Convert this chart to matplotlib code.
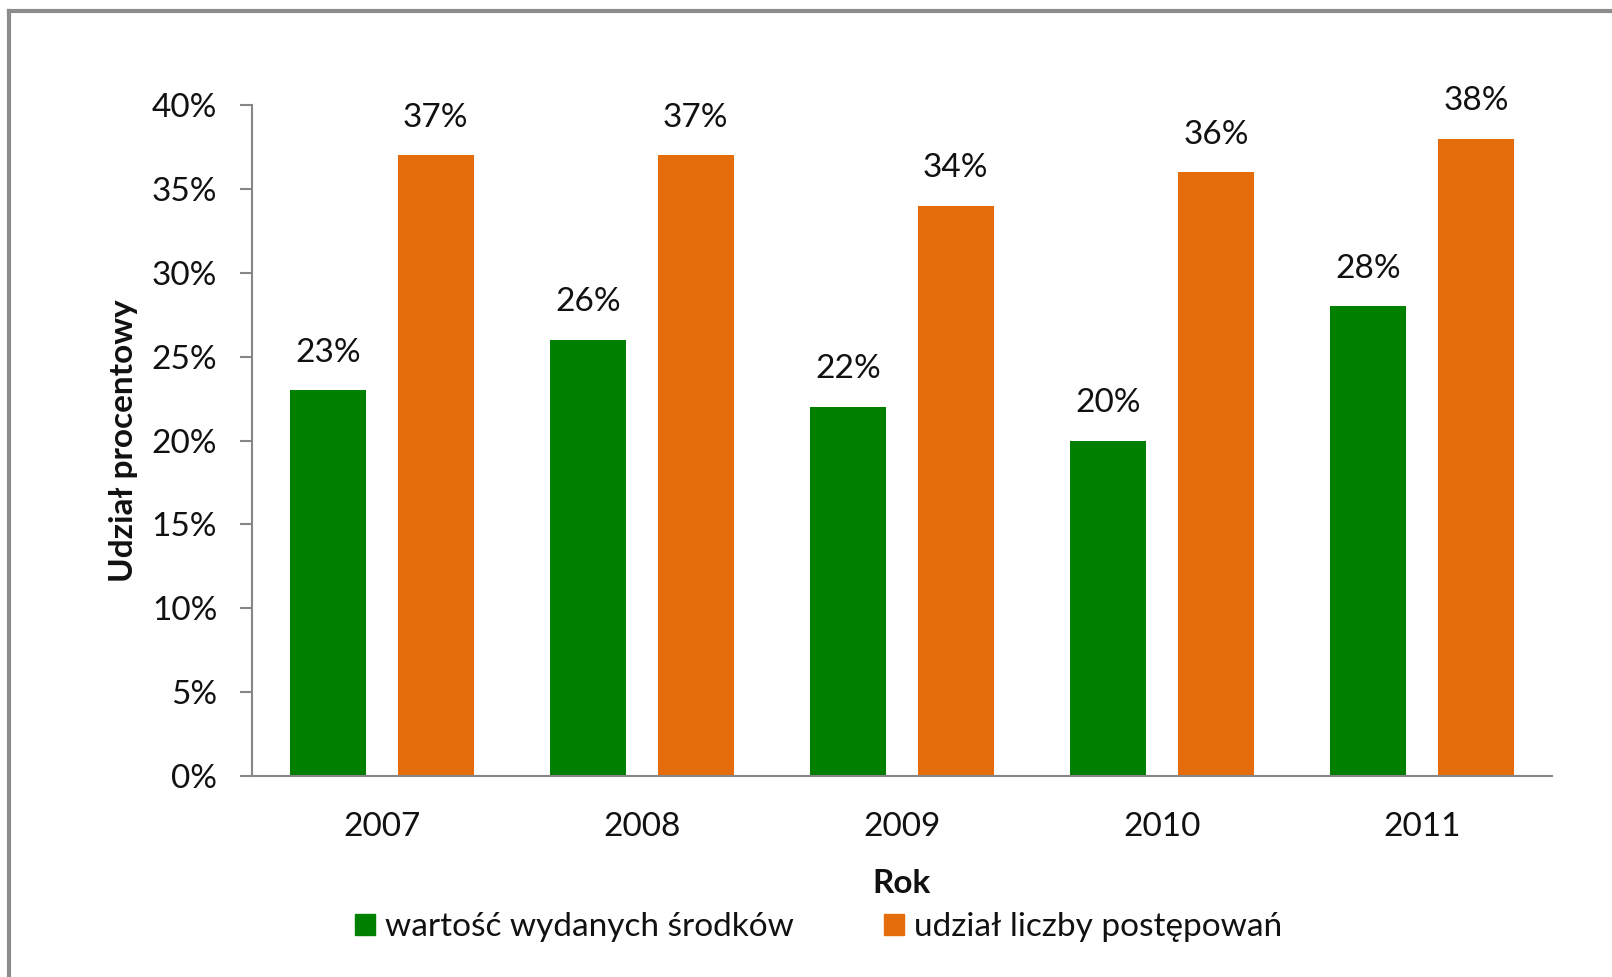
import numpy as np
import matplotlib.pyplot as plt
from matplotlib.lines import Line2D
from matplotlib.patches import Patch

# Data
years = ["2007", "2008", "2009", "2010", "2011"]
wartosc = [23, 26, 22, 20, 28]
udzial = [37, 37, 34, 36, 38]
series_names = ["wartość wydanych środków", "udział liczby postępowań"]

GREEN = "#008000"
ORANGE = "#E46C0A"
AXIS_GRAY = "#868686"
FS = 24

plt.rcParams["font.family"] = ["Lato", "DejaVu Sans"]
plt.rcParams["text.color"] = "#111111"

fig = plt.figure(figsize=(16.12, 9.77), dpi=100)
ax = fig.add_axes([0.1563, 0.2057, 0.9628 - 0.1563, 0.8925 - 0.2057])

x = np.arange(len(years))
width = 0.292
offset = 0.207
bars1 = ax.bar(x - offset, wartosc, width, color=GREEN, label=series_names[0])
bars2 = ax.bar(x + offset, udzial, width, color=ORANGE, label=series_names[1])

# Data labels above bars
for bars, vals in [(bars1, wartosc), (bars2, udzial)]:
    for b, v in zip(bars, vals):
        ax.annotate(f"{v}%", (b.get_x() + b.get_width() / 2, v),
                    xytext=(0, 27), textcoords="offset points",
                    ha="center", va="center", fontsize=FS)

ax.set_xlim(-0.5, len(years) - 0.5)
ax.set_ylim(0, 40)
ax.set_yticks(np.arange(0, 41, 5))
ax.set_yticklabels([f"{t}%" for t in range(0, 41, 5)])
ax.set_xticks(x)
ax.set_xticklabels(years)

for s in ["top", "right"]:
    ax.spines[s].set_visible(False)
for s in ["left", "bottom"]:
    ax.spines[s].set_color(AXIS_GRAY)
    ax.spines[s].set_linewidth(1.5)

ax.tick_params(axis="y", length=9, width=1.5, color=AXIS_GRAY, labelsize=FS,
               labelcolor="#111111", pad=16)
ax.tick_params(axis="x", length=0, labelsize=FS, labelcolor="#111111", pad=26)

ax.set_xlabel("Rok", fontsize=FS, fontweight="bold", labelpad=19, color="#111111")
ax.set_ylabel("Udział procentowy", fontsize=FS, fontweight="bold", labelpad=10,
              color="#111111")

handles = [Patch(color=GREEN), Patch(color=ORANGE)]
fig.legend(handles, series_names, loc="center", bbox_to_anchor=(0.508, 0.051),
           ncol=2, frameon=False, fontsize=FS, handlelength=0.6, handleheight=0.6,
           handletextpad=0.3, columnspacing=2.7)

# Outer chart frame (only top and left edges visible in the crop)
fig.add_artist(Line2D([0.0053, 0.0053], [0, 0.989], transform=fig.transFigure,
                      color="#8c8c8c", linewidth=3))
fig.add_artist(Line2D([0.0053, 1.0], [0.989, 0.989], transform=fig.transFigure,
                      color="#8c8c8c", linewidth=3))

fig.savefig("out.png", dpi=100, facecolor="white")
